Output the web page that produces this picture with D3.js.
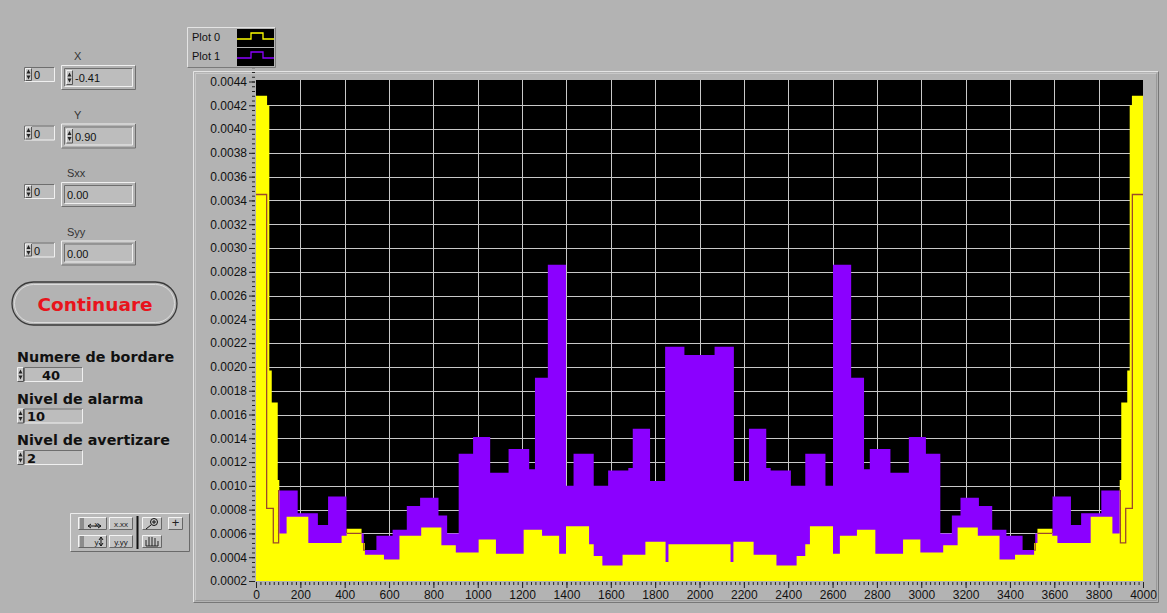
<!DOCTYPE html>
<html>
<head>
<meta charset="utf-8">
<script src="https://cdn.jsdelivr.net/npm/d3@7"></script>
<style>
  body { margin: 0; background: #b3b3b3; }
  svg { display: block; font-family: "Liberation Sans", Arial, sans-serif; }
</style>
</head>
<body>
<div id="panel"></div>
<script>
// step data: each value holds from its edge to the next edge (last one to 4000)
const plot0Edges = [0, 50, 60, 71, 98, 105, 138, 236, 386, 409, 476, 491, 577, 647, 745, 836, 901, 1004, 1082, 1207, 1290, 1367, 1398, 1502, 1523, 1562, 1653, 1756, 1847, 1860,
  2140, 2153, 2244, 2347, 2438, 2477, 2498, 2602, 2633, 2710, 2793, 2918, 2996, 3099, 3164, 3255, 3353, 3423, 3509, 3524, 3591, 3614, 3764, 3862, 3895, 3902, 3929, 3940, 3950];
const plot0Values = [0.00428, 0.00420, 0.00197, 0.00170, 0.00105, 0.00060, 0.00074, 0.00052, 0.00058, 0.00064, 0.00052, 0.00042, 0.00038, 0.00058, 0.00065, 0.00050, 0.00044, 0.00055, 0.00043, 0.00063, 0.00058, 0.00043, 0.00066, 0.00051, 0.00041, 0.00033, 0.00042, 0.00053, 0.00036, 0.00051,
  0.00036, 0.00053, 0.00042, 0.00033, 0.00041, 0.00051, 0.00066, 0.00043, 0.00058, 0.00063, 0.00043, 0.00055, 0.00044, 0.00050, 0.00065, 0.00058, 0.00038, 0.00042, 0.00052, 0.00064, 0.00058, 0.00052, 0.00074, 0.00060, 0.00105, 0.00170, 0.00197, 0.00420, 0.00428];

const plot1Edges = [0, 48, 78, 102, 188, 279, 325, 408, 486, 543, 616, 680, 740, 823, 862, 914, 979, 1056, 1139, 1232, 1258, 1316, 1398, 1432, 1523, 1588, 1679, 1699, 1777, 1845, 1932,
  2068, 2155, 2223, 2301, 2321, 2412, 2477, 2568, 2602, 2684, 2742, 2768, 2861, 2944, 3021, 3086, 3138, 3177, 3260, 3320, 3384, 3457, 3514, 3592, 3675, 3721, 3812, 3898, 3922, 3952];
const plot1Values = [0.00345, 0.00081, 0.00052, 0.00096, 0.00077, 0.00067, 0.00091, 0.00060, 0.00046, 0.00058, 0.00063, 0.00083, 0.00090, 0.00075, 0.00060, 0.00127, 0.00141, 0.00111, 0.00131, 0.00114, 0.00191, 0.00286, 0.00100, 0.00127, 0.00100, 0.00113, 0.00115, 0.00148, 0.00104, 0.00217, 0.00210,
  0.00217, 0.00104, 0.00148, 0.00115, 0.00113, 0.00100, 0.00127, 0.00100, 0.00286, 0.00191, 0.00114, 0.00131, 0.00111, 0.00141, 0.00127, 0.00060, 0.00075, 0.00090, 0.00083, 0.00063, 0.00058, 0.00046, 0.00060, 0.00091, 0.00067, 0.00077, 0.00096, 0.00052, 0.00081, 0.00345];

const xTicks = [0, 200, 400, 600, 800, 1000, 1200, 1400, 1600, 1800, 2000, 2200, 2400, 2600, 2800, 3000, 3200, 3400, 3600, 3800, 4000];
const yTicks = [0.0002, 0.0004, 0.0006, 0.0008, 0.0010, 0.0012, 0.0014, 0.0016, 0.0018, 0.0020, 0.0022, 0.0024, 0.0026, 0.0028, 0.0030, 0.0032, 0.0034, 0.0036, 0.0038, 0.0040, 0.0042, 0.0044];

const legendNames = ["Plot 0", "Plot 1"];
const plotColors = ["#ffff00", "#8b00ff"];

const cursorRows = [
  { name: "X", value: "-0.41", spin: true },
  { name: "Y", value: "0.90", spin: true },
  { name: "Sxx", value: "0.00", spin: false },
  { name: "Syy", value: "0.00", spin: false },
];
const settings = [
  { name: "Numere de bordare", value: "40" },
  { name: "Nivel de alarma", value: "10" },
  { name: "Nivel de avertizare", value: "2" },
];

const W = 1167, H = 613;
const bg = "#b3b3b3";
const boldFont = '"DejaVu Sans", Verdana, sans-serif';
const plot = { left: 256, right: 1143, top: 80, bottom: 581 };

const svg = d3.select("#panel").append("svg").attr("width", W).attr("height", H);
svg.append("rect").attr("width", W).attr("height", H).attr("fill", bg);

// ---- graph frame
function bevel(g, x, y, w, h, light, dark) {
  g.append("path").attr("d", `M${x},${y + h}V${y}H${x + w}`).attr("fill", "none").attr("stroke", light);
  g.append("path").attr("d", `M${x + w},${y}V${y + h}H${x}`).attr("fill", "none").attr("stroke", dark);
}
bevel(svg, 193.5, 71.5, 965, 531, "#e4e4e4", "#777");
bevel(svg, 195.5, 73.5, 961, 527, "#c8c8c8", "#999");

const x = d3.scaleLinear().domain([0, 4000]).range([plot.left, plot.right]);
const y = d3.scaleLinear().domain([0.0002, 0.0044]).range([plot.bottom, plot.top + 1.5]);

svg.append("rect")
  .attr("x", plot.left).attr("y", plot.top)
  .attr("width", plot.right - plot.left).attr("height", plot.bottom - plot.top)
  .attr("fill", "#000");

// grid
const grid = svg.append("g").attr("stroke", "#c8c8c8").attr("stroke-width", 1);
grid.selectAll(".vx").data(xTicks.slice(1, -1)).join("line")
  .attr("x1", (d) => Math.round(x(d)) + 0.5).attr("x2", (d) => Math.round(x(d)) + 0.5)
  .attr("y1", plot.top).attr("y2", plot.bottom);
grid.selectAll(".hy").data(yTicks.slice(1, -1)).join("line")
  .attr("y1", (d) => Math.round(y(d)) + 0.5).attr("y2", (d) => Math.round(y(d)) + 0.5)
  .attr("x1", plot.left).attr("x2", plot.right);

function toSteps(edges, values) {
  const pts = edges.map((e, i) => [e, values[i]]);
  pts.push([4000, values[values.length - 1]]);
  return pts;
}
const steps0 = toSteps(plot0Edges, plot0Values);
const steps1 = toSteps(plot1Edges, plot1Values);

const area = d3.area().curve(d3.curveStepAfter)
  .x((d) => x(d[0])).y0(plot.bottom).y1((d) => y(d[1]));
const line = d3.line().curve(d3.curveStepAfter)
  .x((d) => x(d[0])).y((d) => y(d[1]));

const defs = svg.append("defs");
defs.append("clipPath").attr("id", "plotClip").append("rect")
  .attr("x", plot.left).attr("y", plot.top)
  .attr("width", plot.right - plot.left).attr("height", plot.bottom - plot.top);
defs.append("clipPath").attr("id", "yellowClip").append("path").attr("d", area(steps0));

const marks = svg.append("g").attr("clip-path", "url(#plotClip)");
marks.append("path").attr("d", area(steps1)).attr("fill", plotColors[1]);
marks.append("path").attr("d", area(steps0)).attr("fill", plotColors[0]);
// plot 1 trace shows through where it lies under plot 0
marks.append("g").attr("clip-path", "url(#yellowClip)")
  .append("path").attr("d", line(steps1))
  .attr("fill", "none").attr("stroke", "#9c4a2a").attr("stroke-width", 1.3);

// axes
const yMinor = d3.range(0, 111).map((i) => 0.0002 + i * 0.00004);
const xMinor = d3.range(0, 201).map((i) => i * 20);

svg.append("g").attr("transform", `translate(${plot.left - 1},0)`)
  .call(d3.axisLeft(y).tickValues(yTicks).tickFormat(d3.format(".4f")).tickSize(6).tickPadding(2));
svg.append("g").attr("transform", `translate(${plot.left - 1},0)`)
  .call(d3.axisLeft(y).tickValues(yMinor).tickFormat("").tickSize(3));
svg.append("g").attr("transform", `translate(0,${plot.bottom + 1})`)
  .call(d3.axisBottom(x).tickValues(xTicks).tickFormat(d3.format("d")).tickSize(6).tickPadding(2));
svg.append("g").attr("transform", `translate(0,${plot.bottom + 1})`)
  .call(d3.axisBottom(x).tickValues(xMinor).tickFormat("").tickSize(3));
svg.selectAll(".domain").remove();
svg.selectAll(".tick line").attr("stroke", "#222");
svg.selectAll(".tick text").attr("font-size", 12).attr("fill", "#111")
  .attr("font-family", '"Liberation Sans", Arial, sans-serif');

// ---- legend
const leg = svg.append("g");
leg.append("rect").attr("x", 188).attr("y", 28).attr("width", 87).attr("height", 40).attr("fill", bg);
bevel(leg, 187.5, 27.5, 88, 40, "#e4e4e4", "#7a7a7a");
legendNames.forEach((name, i) => {
  const top = 29 + i * 19;
  leg.append("text").attr("x", 192).attr("y", top + 12).attr("font-size", 11).attr("fill", "#111").text(name);
  leg.append("rect").attr("x", 237).attr("y", top).attr("width", 37).attr("height", 18).attr("fill", "#000");
  const hi = top + 4, lo = top + 10;
  leg.append("path")
    .attr("d", `M237,${lo}H251V${hi}H263V${lo}H274`)
    .attr("fill", "none").attr("stroke", plotColors[i]).attr("stroke-width", 1.3);
});

// ---- left controls
function sunkenBox(g, bx, by, w, h) {
  g.append("rect").attr("x", bx).attr("y", by).attr("width", w).attr("height", h).attr("fill", "#bdbdbd");
  bevel(g, bx + 0.5, by + 0.5, w - 1, h - 1, "#6e6e6e", "#f0f0f0");
}
function spinner(g, sx, sy, h) {
  const mid = sy + h / 2;
  g.append("rect").attr("x", sx).attr("y", sy).attr("width", 7).attr("height", h).attr("fill", "#c6c6c6");
  bevel(g, sx + 0.5, sy + 0.5, 6, h - 1, "#f2f2f2", "#555");
  g.append("path").attr("d", `M${sx + 1.5},${mid - 1}L${sx + 3.5},${mid - 5}L${sx + 5.5},${mid - 1}Z`).attr("fill", "#222");
  g.append("path").attr("d", `M${sx + 1.5},${mid + 1}L${sx + 3.5},${mid + 5}L${sx + 5.5},${mid + 1}Z`).attr("fill", "#222");
}

const ctl = svg.append("g").attr("font-size", 11).attr("fill", "#111");
cursorRows.forEach((row, i) => {
  const top = 66 + i * 58.5;
  ctl.append("text").attr("x", row.name.length > 1 ? 67 : 74).attr("y", top - 6).attr("fill", "#333")
    .attr("font-size", 11).text(row.name);
  // index control
  sunkenBox(ctl, 24, top + 1, 31, 15);
  spinner(ctl, 25, top + 2, 13);
  ctl.append("text").attr("x", 34).attr("y", top + 13).text("0");
  // value display with double frame
  bevel(ctl, 61.5, top - 0.5, 74, 24, "#f0f0f0", "#6e6e6e");
  sunkenBox(ctl, 64, top + 2, 69, 19);
  if (row.spin) {
    spinner(ctl, 66, top + 4, 15);
    ctl.append("text").attr("x", 75).attr("y", top + 16).text(row.value);
  } else {
    ctl.append("text").attr("x", 67).attr("y", top + 16).text(row.value);
  }
});

// Continuare button
const btn = svg.append("g");
btn.append("rect").attr("x", 12).attr("y", 282).attr("width", 165).attr("height", 43)
  .attr("rx", 21.5).attr("fill", bg).attr("stroke", "#3a3a3a").attr("stroke-width", 1.3);
btn.append("rect").attr("x", 14.5).attr("y", 284.5).attr("width", 160).attr("height", 38)
  .attr("rx", 19).attr("fill", "none").attr("stroke", "#dcdcdc").attr("stroke-width", 1);
btn.append("text").attr("x", 95).attr("y", 310.5).attr("text-anchor", "middle")
  .attr("font-family", boldFont).attr("font-size", 18.5).attr("font-weight", "bold")
  .attr("fill", "#e8141c").text("Continuare");

settings.forEach((s, i) => {
  const base = 362 + i * 41.5;
  ctl.append("text").attr("x", 17).attr("y", base).attr("font-family", boldFont)
    .attr("font-size", 14.3).attr("font-weight", "bold").attr("fill", "#111").text(s.name);
  sunkenBox(ctl, 24, base + 5, 59, 15);
  spinner(ctl, 17, base + 5, 15);
  ctl.append("text").attr("x", i === 0 ? 42 : 27).attr("y", base + 17.5)
    .attr("font-family", boldFont).attr("font-size", 13).attr("font-weight", "bold").text(s.value);
});

// graph palette
const pal = svg.append("g").attr("font-size", 8).attr("fill", "#222");
pal.append("rect").attr("x", 70).attr("y", 513).attr("width", 120).attr("height", 39).attr("fill", "#b8b8b8");
bevel(pal, 70.5, 513.5, 119, 38, "#ececec", "#6a6a6a");
[[78, 517, 29, "x"], [78, 535, 29, "y"], [109, 517, 24, "x.xx"], [109, 535, 24, "y.yy"], [142, 517, 20, ""], [168, 517, 15, "+"], [142, 535, 20, ""]]
  .forEach(([bx, by, bw, label]) => {
    pal.append("rect").attr("x", bx).attr("y", by).attr("width", bw).attr("height", 13).attr("fill", "#c4c4c4");
    bevel(pal, bx + 0.5, by + 0.5, bw - 1, 12, "#f4f4f4", "#666");
    if (label) {
      pal.append("text").attr("x", bx + bw / 2 + (label.length === 1 && bw > 20 ? 4 : 0)).attr("y", by + 9.5)
        .attr("text-anchor", "middle").attr("font-size", label === "+" ? 13 : 8).text(label);
    }
  });
pal.append("path").attr("d", "M81,518V529M83,518V529M81,536V547M83,536V547").attr("stroke", "#555");
pal.append("path").attr("d", "M88,526H101M88,526l3,-2M88,526l3,2M101,526l-3,-2M101,526l-3,2").attr("stroke", "#111").attr("fill", "none");
pal.append("path").attr("d", "M101,537V546M101,537l-2,3M101,537l2,3M101,546l-2,-3M101,546l2,-3").attr("stroke", "#111").attr("fill", "none");
pal.append("line").attr("x1", 137.5).attr("x2", 137.5).attr("y1", 516).attr("y2", 549).attr("stroke", "#111").attr("stroke-width", 2);
pal.append("circle").attr("cx", 154).attr("cy", 522).attr("r", 3.5).attr("fill", "none").attr("stroke", "#111");
pal.append("path").attr("d", "M151,525L146,529M152,522H156M154,520V524").attr("stroke", "#111");
pal.append("path").attr("d", "M146,546V540M149,546V537M152,546V537M155,546V538M158,546V541M146,546H158")
  .attr("stroke", "#222").attr("fill", "none");
</script>
</body>
</html>
